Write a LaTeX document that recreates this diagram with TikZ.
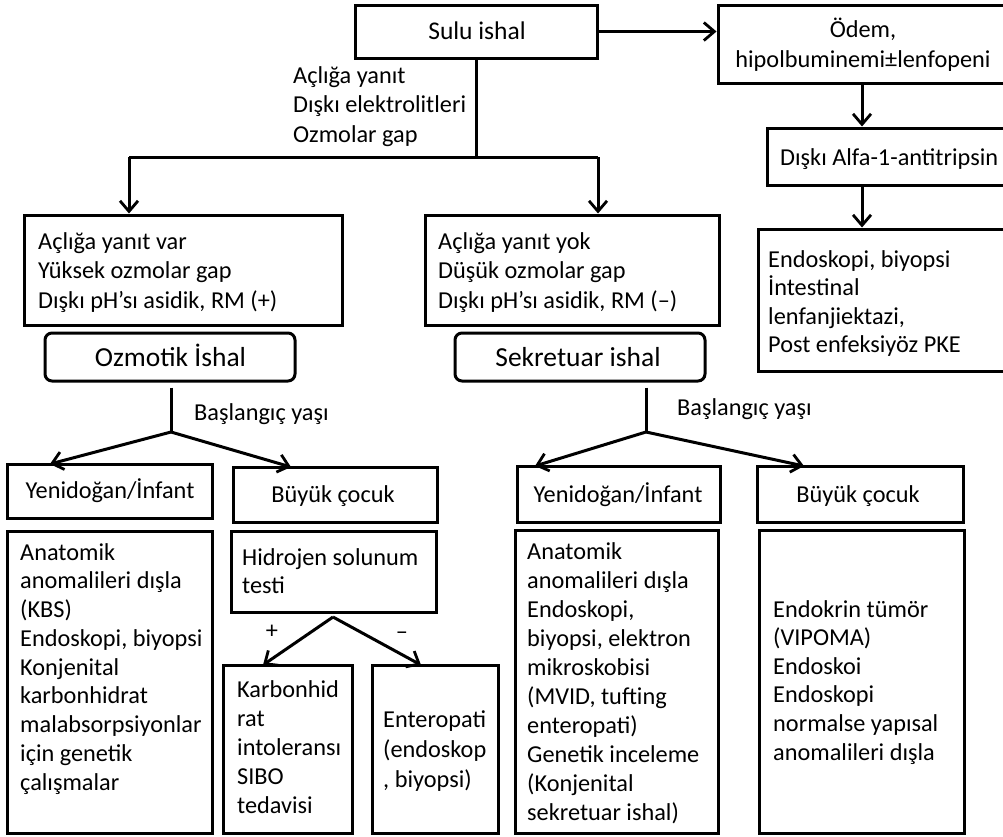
\documentclass[tikz,border=0pt]{standalone}
\usepackage{fontspec}
\setmainfont{Carlito}
\usetikzlibrary{arrows.meta,calc}
\tikzset{
  box/.style={draw, line width=3pt, inner sep=0pt},
  rbox/.style={box, rounded corners=7pt},
  conn/.style={line width=3pt},
  arr/.style={conn, -{Straight Barb[length=10.5pt,width=18pt,line width=2.8pt]}},
  ltxt/.style={inner sep=0pt, anchor=base west, align=left, font=\fontsize{24.3}{29}\selectfont},
  ctxt/.style={inner sep=0pt, anchor=base, align=center, font=\fontsize{24.3}{29}\selectfont},
  big/.style={font=\fontsize{27.5}{32}\selectfont},
}
\begin{document}
\begin{tikzpicture}[x=1pt,y=-1pt]
\useasboundingbox (0,0) rectangle (1003,836);
% boxes
\node[box, minimum width=242pt, minimum height=53pt] (sulu) at (476,31.5) {};
\node[box, minimum width=292pt, minimum height=78pt] (odem) at (864,44) {};
\node[box, minimum width=243pt, minimum height=57pt] (alfa) at (888.5,156.5) {};
\node[box, minimum width=252pt, minimum height=142pt] (endo) at (884,300) {};
\node[box, minimum width=318pt, minimum height=110pt] (left3) at (183,270) {};
\node[box, minimum width=294pt, minimum height=110pt] (right3) at (572,270) {};
\node[rbox, minimum width=250pt, minimum height=48pt] (ozm) at (170,357) {};
\node[rbox, minimum width=250pt, minimum height=48pt] (sek) at (580,357) {};
\node[box, minimum width=205pt, minimum height=54pt] (yenL) at (109.5,491) {};
\node[box, minimum width=204pt, minimum height=55pt] (buyL) at (335,494.5) {};
\node[box, minimum width=205pt, minimum height=302pt] (anaL) at (109.5,682) {};
\node[box, minimum width=205pt, minimum height=81pt] (hid) at (333.5,571.5) {};
\node[box, minimum width=129pt, minimum height=168pt] (karb) at (287.5,749) {};
\node[box, minimum width=126pt, minimum height=168pt] (ent) at (435,749) {};
\node[box, minimum width=203pt, minimum height=56pt] (yenR) at (618.5,494) {};
\node[box, minimum width=206pt, minimum height=56pt] (buyR) at (860,494) {};
\node[box, minimum width=203pt, minimum height=303pt] (anaR) at (616.5,681.5) {};
\node[box, minimum width=205pt, minimum height=303pt] (endk) at (861.5,681.5) {};
% texts (multi-line: base = last line)
\node[ctxt, font=\fontsize{25.5}{29}\selectfont] (tSulu) at (477,39) {Sulu ishal};
\node[ltxt, font=\fontsize{24.3}{29.5}\selectfont] (tLbl) at (293,142) {Açlığa yanıt\\Dışkı elektrolitleri\\Ozmolar gap};
\node[ctxt, font=\fontsize{24.3}{30}\selectfont] (tOdem) at (863,67) {Ödem,\\hipolbuminemi±lenfopeni};
\node[ltxt] (tAlfa) at (780,165) {Dışkı Alfa-1-antitripsin};
\node[ltxt, font=\fontsize{24.3}{28.5}\selectfont] (tEndo) at (768,352.5) {Endoskopi, biyopsi\\İntestinal\\lenfanjiektazi,\\Post enfeksiyöz PKE};
\node[ltxt, font=\fontsize{24.3}{29.5}\selectfont] (tL3) at (38,308) {Açlığa yanıt var\\Yüksek ozmolar gap\\Dışkı pH’sı asidik, RM (+)};
\node[ltxt, font=\fontsize{24.3}{29.5}\selectfont] (tR3) at (438,308) {Açlığa yanıt yok\\Düşük ozmolar gap\\Dışkı pH’sı asidik, RM (–)};
\node[ctxt, big] (tOzm) at (170.5,366) {Ozmotik İshal};
\node[ctxt, big] (tSek) at (578,366) {Sekretuar ishal};
\node[ltxt] (tBasL) at (194,420) {Başlangıç yaşı};
\node[ltxt] (tBasR) at (677,415) {Başlangıç yaşı};
\node[ctxt] (tYenL) at (110,498) {Yenidoğan/İnfant};
\node[ctxt] (tBuyL) at (333,502) {Büyük çocuk};
\node[ltxt, font=\fontsize{24.3}{28.75}\selectfont] (tAnaL) at (20,790) {Anatomik\\anomalileri dışla\\(KBS)\\Endoskopi, biyopsi\\Konjenital\\karbonhidrat\\malabsorpsiyonlar\\için genetik\\çalışmalar};
\node[ltxt, font=\fontsize{24.3}{28}\selectfont] (tHid) at (242,593) {Hidrojen solunum\\testi};
\node[ctxt] (tPlus) at (272,638) {+};
\node[ctxt] (tMinus) at (402,639) {–};
\node[ltxt, font=\fontsize{24.3}{28.8}\selectfont] (tKarb) at (237,813) {Karbonhid\\rat\\intoleransı\\SIBO\\tedavisi};
\node[ltxt, font=\fontsize{24.3}{30}\selectfont] (tEnt) at (383,787) {Enteropati\\(endoskop\\, biyopsi)};
\node[ctxt] (tYenR) at (618,502) {Yenidoğan/İnfant};
\node[ctxt] (tBuyR) at (858,502) {Büyük çocuk};
\node[ltxt, font=\fontsize{24.3}{28.9}\selectfont] (tAnaR) at (527,820) {Anatomik\\anomalileri dışla\\Endoskopi,\\biyopsi, elektron\\mikroskobisi\\(MVID, tufting\\enteropati)\\Genetik inceleme\\(Konjenital\\sekretuar ishal)};
\node[ltxt, font=\fontsize{24.3}{28.6}\selectfont] (tEndk) at (773,760) {Endokrin tümör\\(VIPOMA)\\Endoskoi\\Endoskopi\\normalse yapısal\\anomalileri dışla};
% junction coordinates
\coordinate (j1) at (476,157);
\coordinate (jL) at (129,157);
\coordinate (jR) at (598,157);
\coordinate (bL) at (171,432);
\coordinate (bR) at (646,432);
\coordinate (hA) at (333,617);
\coordinate (yenLt) at (50,464);
\coordinate (buyLt) at (291,467);
\coordinate (yenRt) at (535,466);
\coordinate (buyRt) at (804,466);
\coordinate (karbt) at (263,665);
\coordinate (entt) at (421,665);
% connectors
\draw[arr] (sulu.east) -- (sulu.east -| odem.west);
\draw[conn] (sulu.south) -- (j1);
\draw[conn] (jL) -- (jR);
\draw[arr] (jL) -- (jL |- left3.north);
\draw[arr] (jR) -- (jR |- right3.north);
\draw[arr] (odem.south -| 862,0) -- (alfa.north -| 862,0);
\draw[arr] (alfa.south -| 862,0) -- (endo.north -| 862,0);
\draw[conn] ([yshift=-5pt]ozm.south -| bL) -- (bL);
\draw[arr] (bL) -- (yenLt);
\draw[arr] (bL) -- (buyLt);
\draw[conn] ([yshift=-5pt]sek.south -| bR) -- (bR);
\draw[arr] (bR) -- (yenRt);
\draw[arr] (bR) -- (buyRt);
\draw[arr] (hA) -- (karbt);
\draw[arr] (hA) -- (entt);
\end{tikzpicture}
\end{document}
